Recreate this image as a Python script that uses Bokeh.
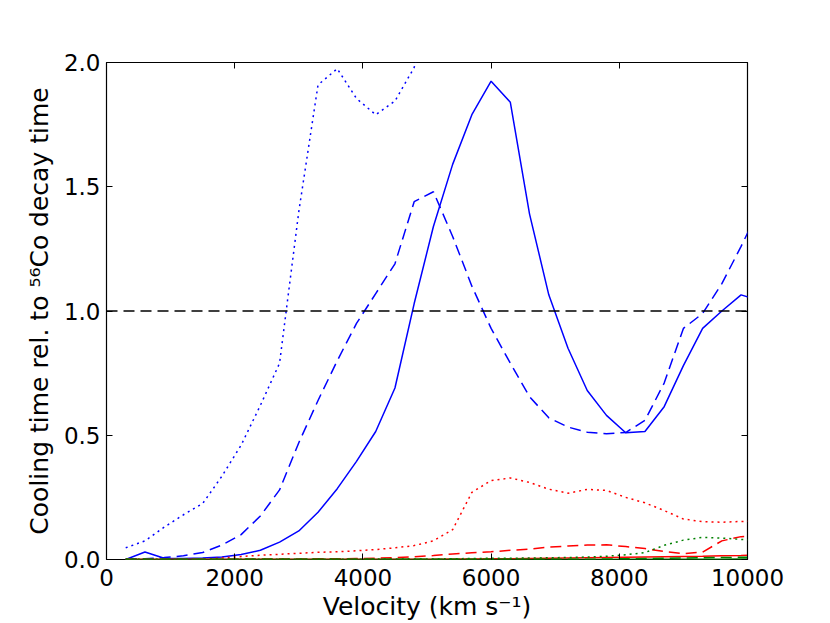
from bokeh.plotting import figure
from bokeh.models import (Range1d, LinearAxis, FixedTicker, PrintfTickFormatter, Span,
                          CustomJSTickFormatter)
from bokeh.embed import file_html
from bokeh.resources import INLINE

velocity = [300, 600, 900, 1200, 1500, 1800, 2100, 2400, 2700, 3000,
            3300, 3600, 3900, 4200, 4500, 4800, 5100, 5400, 5700, 6000,
            6300, 6600, 6900, 7200, 7500, 7800, 8100, 8400, 8700, 9000,
            9300, 9600, 9900, 10200]

blue_solid = [0.0, 0.03, 0.005, 0.004, 0.006, 0.01, 0.02, 0.037, 0.07, 0.115,
              0.19, 0.285, 0.395, 0.515, 0.69, 1.03, 1.34, 1.59, 1.79, 1.925,
              1.84, 1.39, 1.065, 0.85, 0.68, 0.58, 0.51, 0.515, 0.615, 0.78,
              0.93, 1.0, 1.065, 1.04]

blue_dashed = [0.002, 0.003, 0.008, 0.015, 0.028, 0.058, 0.1, 0.175, 0.28, 0.47,
               0.64, 0.8, 0.95, 1.07, 1.19, 1.44, 1.48, 1.30, 1.10, 0.93,
               0.79, 0.655, 0.57, 0.533, 0.512, 0.506, 0.511, 0.56, 0.71, 0.93,
               0.99, 1.11, 1.26, 1.42]

blue_dotted_v = [300, 600, 900, 1200, 1500, 1800, 2100, 2400, 2700, 3000,
                 3300, 3600, 3900, 4200, 4500, 4800, 5100]
blue_dotted = [0.047, 0.075, 0.13, 0.18, 0.225, 0.335, 0.46, 0.62, 0.79, 1.4,
               1.91, 1.975, 1.855, 1.79, 1.845, 1.98, 2.3]

red_solid = [0.001, 0.001, 0.001, 0.001, 0.001, 0.001, 0.001, 0.001, 0.001, 0.001,
             0.001, 0.001, 0.001, 0.001, 0.001, 0.001, 0.001, 0.002, 0.002, 0.003,
             0.003, 0.004, 0.005, 0.006, 0.007, 0.008, 0.009, 0.01, 0.011, 0.012,
             0.013, 0.015, 0.016, 0.018]

red_dashed = [0.0, 0.0, 0.0, 0.0, 0.001, 0.001, 0.001, 0.002, 0.002, 0.002,
              0.003, 0.003, 0.004, 0.005, 0.008, 0.011, 0.016, 0.022, 0.027, 0.031,
              0.037, 0.042, 0.05, 0.054, 0.058, 0.059, 0.052, 0.044, 0.032, 0.023,
              0.03, 0.075, 0.092, 0.098]

red_dotted = [0.0, 0.0, 0.0, 0.001, 0.002, 0.006, 0.012, 0.017, 0.021, 0.025,
              0.029, 0.031, 0.035, 0.04, 0.047, 0.056, 0.075, 0.12, 0.27, 0.318,
              0.328, 0.31, 0.283, 0.267, 0.282, 0.278, 0.25, 0.228, 0.197, 0.163,
              0.152, 0.15, 0.153, 0.155]

green_solid = [0.0, 0.0, 0.0, 0.0, 0.0, 0.0, 0.0, 0.0, 0.0, 0.0,
               0.0, 0.0, 0.0, 0.0, 0.0, 0.0, 0.0, 0.0, 0.0, 0.0,
               0.0, 0.0, 0.0, 0.0, 0.0, 0.0, 0.001, 0.001, 0.001, 0.001,
               0.001, 0.001, 0.002, 0.002]

green_dashed = [0.001, 0.001, 0.001, 0.001, 0.001, 0.001, 0.001, 0.001, 0.001, 0.001,
                0.001, 0.001, 0.001, 0.001, 0.001, 0.001, 0.001, 0.001, 0.001, 0.001,
                0.001, 0.001, 0.001, 0.001, 0.001, 0.002, 0.003, 0.004, 0.005, 0.006,
                0.007, 0.008, 0.009, 0.01]

green_dotted = [0.001, 0.001, 0.001, 0.001, 0.001, 0.001, 0.001, 0.001, 0.001, 0.001,
                0.001, 0.001, 0.001, 0.002, 0.002, 0.002, 0.002, 0.003, 0.004, 0.005,
                0.005, 0.006, 0.007, 0.008, 0.01, 0.013, 0.019, 0.028, 0.057, 0.078,
                0.089, 0.086, 0.081, 0.077]

reference_level = 1.0

x_ticks = [0, 2000, 4000, 6000, 8000, 10000]
y_ticks = [0.0, 0.5, 1.0, 1.5, 2.0]

x_title = "Velocity (km s\u207b\u00b9)"
y_title = "Cooling time rel. to \u2075\u2076Co decay time"

FONT = "DejaVu Sans"
TICK_FS = "23px"
LABEL_FS = "25px"

p = figure(width=830, height=623, output_backend="svg", toolbar_location=None,
           x_range=Range1d(0, 10000), y_range=Range1d(0, 2.0),
           min_border_left=106, min_border_right=83, min_border_top=62,
           min_border_bottom=63)
p.background_fill_color = "white"
p.border_fill_color = "white"
p.outline_line_color = "black"
p.outline_line_width = 1.2
p.outline_line_alpha = 1.0
p.grid.visible = False

BLUE = "#0000ff"
RED = "#ff0000"
GREEN = "#008000"
LW = 1.5
DASH = "11 6"
DOT = "2 4"

p.line(velocity, blue_solid, line_color=BLUE, line_width=LW)
p.line(velocity, blue_dashed, line_color=BLUE, line_width=LW, line_dash=DASH)
p.line(blue_dotted_v, blue_dotted, line_color=BLUE, line_width=LW, line_dash=DOT)
p.line(velocity, red_solid, line_color=RED, line_width=LW)
p.line(velocity, red_dashed, line_color=RED, line_width=LW, line_dash=DASH)
p.line(velocity, red_dotted, line_color=RED, line_width=LW, line_dash=DOT)
p.line(velocity, green_solid, line_color=GREEN, line_width=LW)
p.line(velocity, green_dashed, line_color=GREEN, line_width=LW, line_dash=DASH)
p.line(velocity, green_dotted, line_color=GREEN, line_width=LW, line_dash=DOT)

p.add_layout(Span(location=reference_level, dimension="width", line_color="black",
                  line_width=LW, line_dash=DASH))

def style_axis(ax, ticks, fmt, show_labels=True):
    ax.ticker = FixedTicker(ticks=ticks)
    if show_labels:
        ax.formatter = PrintfTickFormatter(format=fmt)
    else:
        ax.formatter = CustomJSTickFormatter(code="return ''")
    ax.axis_line_color = None
    ax.major_tick_in = 6
    ax.major_tick_out = 0
    ax.minor_tick_line_color = None
    ax.major_tick_line_color = "black"
    ax.major_tick_line_width = 1
    ax.major_label_text_font = FONT
    ax.major_label_text_font_size = TICK_FS
    ax.major_label_text_color = "black"
    ax.axis_label_text_font = FONT
    ax.axis_label_text_font_size = LABEL_FS
    ax.axis_label_text_font_style = "normal"
    ax.axis_label_text_color = "black"

xa = p.xaxis[0]
style_axis(xa, x_ticks, "%d")
xa.axis_label = x_title
xa.major_label_standoff = 9
xa.axis_label_standoff = 3

ya = p.yaxis[0]
style_axis(ya, y_ticks, "%.1f")
ya.axis_label = y_title
ya.major_label_standoff = 6
ya.axis_label_standoff = 7

top = LinearAxis()
style_axis(top, x_ticks, "%d", show_labels=False)
top.major_label_standoff = 0
p.add_layout(top, "above")
right = LinearAxis()
style_axis(right, y_ticks, "%.1f", show_labels=False)
right.major_label_standoff = 0
p.add_layout(right, "right")

open("out.html", "w").write(file_html(p, INLINE))
